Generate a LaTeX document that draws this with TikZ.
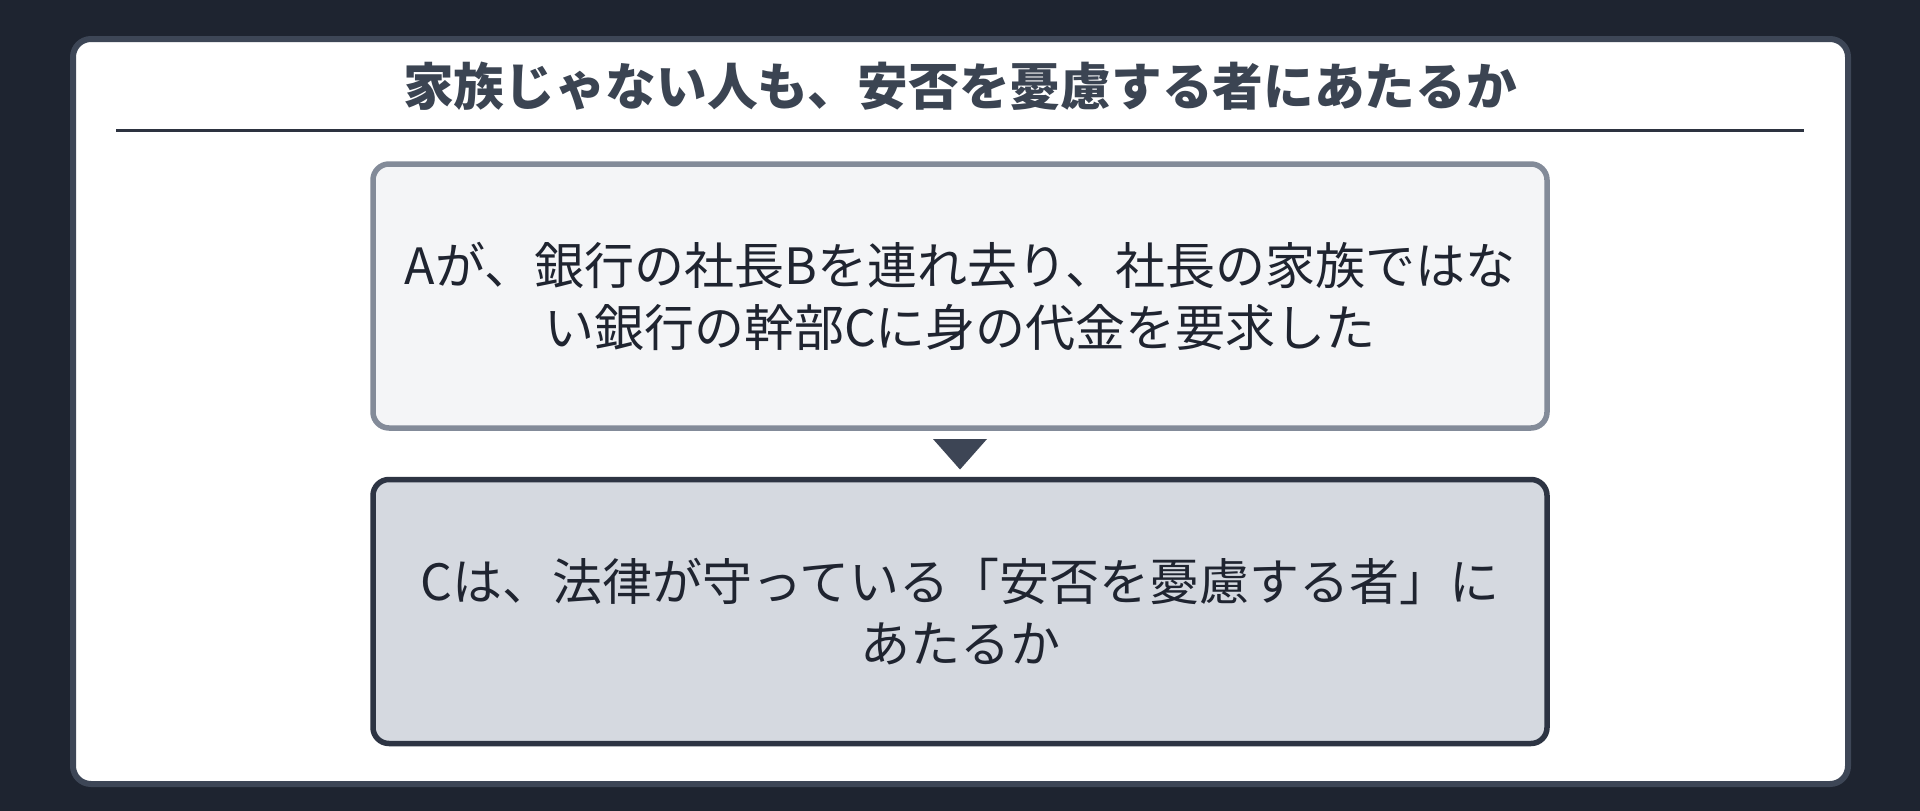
\documentclass[tikz,border=0pt]{standalone}
\usepackage{fontspec}
\setmainfont{Noto Sans CJK JP}
\usetikzlibrary{calc}
\definecolor{bgcol}{HTML}{1E2430}
\definecolor{cardline}{HTML}{3D4656}
\definecolor{rulecol}{HTML}{2D3340}
\definecolor{boxafill}{HTML}{F4F5F7}
\definecolor{boxaline}{HTML}{838B99}
\definecolor{boxbfill}{HTML}{D5D9E0}
\definecolor{boxbline}{HTML}{2D3443}
\definecolor{tricol}{HTML}{3D4555}
\definecolor{titlecol}{HTML}{3B4452}
\definecolor{textcol}{HTML}{1F2430}
\tikzset{
  card/.style={draw=cardline, fill=white, line width=6pt, rounded corners=18pt},
  titletext/.style={text=titlecol, font=\fontsize{50.7}{60}\selectfont\bfseries, inner sep=0pt},
  stepbox/.style={rectangle, rounded corners=16pt, line width=5.5pt, minimum width=1174pt, minimum height=264pt, inner sep=0pt, outer sep=0pt, align=center, text=textcol, font=\fontsize{50}{62}\selectfont},
  factbox/.style={stepbox, draw=boxaline, fill=boxafill},
  questionbox/.style={stepbox, draw=boxbline, fill=boxbfill},
  headtri/.style={fill=tricol}
}
\begin{document}
\begin{tikzpicture}[x=1pt,y=-1pt]
\fill[bgcol] (0,0) rectangle (1920,811);
\useasboundingbox (0,0) rectangle (1920,811);
\draw[card] (73,39) rectangle (1848,784);
\node[titletext] (title) at (960,86) {家族じゃない人も、安否を憂慮する者にあたるか};
\coordinate (ruleL) at (116,130.5);
\coordinate (ruleR) at (1804,130.5);
\draw[rulecol, line width=3pt] (ruleL) -- (ruleR);
\node[factbox] (b1) at (960,296) {Aが、銀行の社長Bを連れ去り、社長の家族ではな\\い銀行の幹部Cに身の代金を要求した};
\node[questionbox] (b2) at (960,611.5) {Cは、法律が守っている「安否を憂慮する者」に\\あたるか};
\fill[headtri] ($(b1.south)+(-27,11)$) -- ($(b1.south)+(27,11)$) -- ($(b2.north)+(0,-10)$) -- cycle;
\end{tikzpicture}
\end{document}
